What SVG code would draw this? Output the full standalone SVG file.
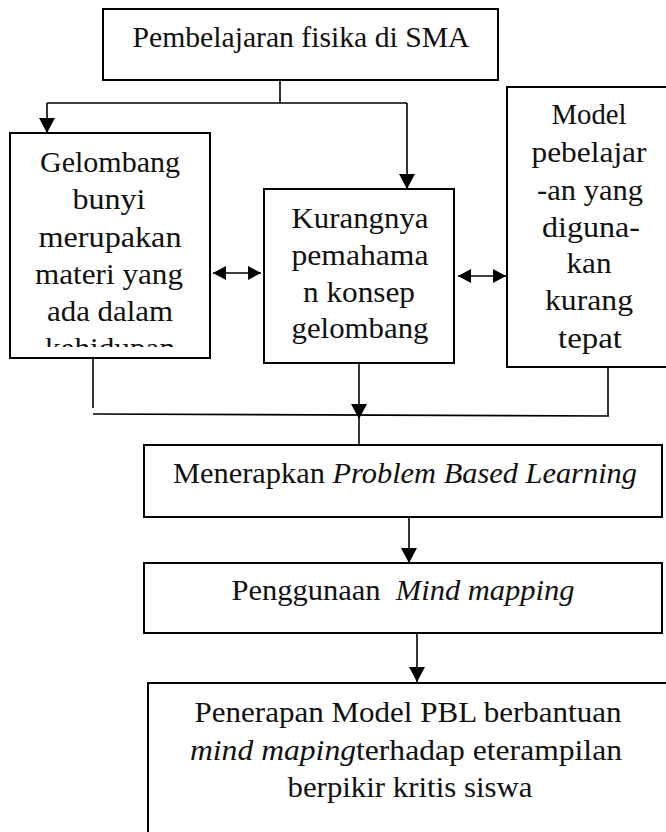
<svg xmlns="http://www.w3.org/2000/svg" width="666" height="832" viewBox="0 0 666 832">
<style>
.box{fill:#fff;stroke:#000;stroke-width:2}
.t{font-family:"Liberation Serif","Times New Roman",serif;font-size:30px;fill:#111;text-anchor:middle}
.i{font-style:italic}
.ln{fill:none;stroke:#000;stroke-width:1.6}
</style>
<defs>
<marker id="ah" markerUnits="userSpaceOnUse" markerWidth="16" markerHeight="16" refX="15" refY="8" orient="auto">
<path d="M0,0 L15,8 L0,16 Z" fill="#000"/>
</marker>
<marker id="ahs" markerUnits="userSpaceOnUse" markerWidth="14" markerHeight="14" refX="13" refY="7" orient="auto-start-reverse">
<path d="M0,0 L13,7 L0,14 Z" fill="#000"/>
</marker>
<clipPath id="clipL"><rect x="10" y="133" width="200" height="214"/></clipPath>
</defs>
<rect width="666" height="832" fill="#fff"/>

<g id="connectors">
<path class="ln" d="M280,80 V103"/>
<path class="ln" d="M47,103 H407"/>
<path class="ln" d="M47,103 V133" marker-end="url(#ah)"/>
<path class="ln" d="M407,103 V189" marker-end="url(#ah)"/>
<path class="ln" d="M213,273 H261" marker-start="url(#ahs)" marker-end="url(#ahs)"/>
<path class="ln" d="M458,276 H506" marker-start="url(#ahs)" marker-end="url(#ahs)"/>
<path class="ln" d="M93,359 V408"/>
<path class="ln" d="M93,414 L609,416"/>
<path class="ln" d="M608,366 V416"/>
<path class="ln" d="M359,364 V419" marker-end="url(#ah)"/>
<path class="ln" d="M359,419 V445"/>
<path class="ln" d="M409,517 V563" marker-end="url(#ah)"/>
<path class="ln" d="M417,633 V682" marker-end="url(#ah)"/>
</g>

<g id="n-top">
<rect class="box" x="103" y="9" width="395" height="71"/>
<text class="t" x="301" y="47" textLength="337" lengthAdjust="spacingAndGlyphs">Pembelajaran fisika di SMA</text>
</g>

<g id="n-left">
<rect class="box" x="10" y="133" width="200" height="225"/>
<g clip-path="url(#clipL)">
<text class="t" x="110" y="172" textLength="140" lengthAdjust="spacingAndGlyphs">Gelombang</text>
<text class="t" x="109" y="209" textLength="73" lengthAdjust="spacingAndGlyphs">bunyi</text>
<text class="t" x="110" y="247" textLength="143" lengthAdjust="spacingAndGlyphs">merupakan</text>
<text class="t" x="109" y="284" textLength="148" lengthAdjust="spacingAndGlyphs">materi yang</text>
<text class="t" x="110" y="321" textLength="126" lengthAdjust="spacingAndGlyphs">ada dalam</text>
<text class="t" x="110" y="358" textLength="130" lengthAdjust="spacingAndGlyphs">kehidupan</text>
</g>
</g>

<g id="n-mid">
<rect class="box" x="264" y="189" width="190" height="174"/>
<text class="t" x="360" y="228" textLength="137" lengthAdjust="spacingAndGlyphs">Kurangnya</text>
<text class="t" x="360" y="265" textLength="137" lengthAdjust="spacingAndGlyphs">pemahama</text>
<text class="t" x="359" y="302" textLength="112" lengthAdjust="spacingAndGlyphs">n konsep</text>
<text class="t" x="360" y="338" textLength="137" lengthAdjust="spacingAndGlyphs">gelombang</text>
</g>

<g id="n-right">
<rect class="box" x="507" y="87" width="166" height="280"/>
<text class="t" x="589" y="124" textLength="75" lengthAdjust="spacingAndGlyphs">Model</text>
<text class="t" x="589" y="162" textLength="115" lengthAdjust="spacingAndGlyphs">pebelajar</text>
<text class="t" x="590" y="200" textLength="106" lengthAdjust="spacingAndGlyphs">-an yang</text>
<text class="t" x="591" y="237" textLength="98" lengthAdjust="spacingAndGlyphs">diguna-</text>
<text class="t" x="589" y="273" textLength="45" lengthAdjust="spacingAndGlyphs">kan</text>
<text class="t" x="589" y="310" textLength="88" lengthAdjust="spacingAndGlyphs">kurang</text>
<text class="t" x="590" y="348" textLength="64" lengthAdjust="spacingAndGlyphs">tepat</text>
</g>

<g id="n-pbl">
<rect class="box" x="144" y="445" width="518" height="72"/>
<text class="t" x="405" y="483" textLength="464" lengthAdjust="spacingAndGlyphs">Menerapkan <tspan class="i">Problem Based Learning</tspan></text>
</g>

<g id="n-mind">
<rect class="box" x="144" y="563" width="518" height="70"/>
<text class="t" x="403" y="600" textLength="343" lengthAdjust="spacingAndGlyphs">Penggunaan&#160; <tspan class="i">Mind mapping</tspan></text>
</g>

<g id="n-result">
<rect class="box" x="148" y="683" width="530" height="160"/>
<text class="t" x="408" y="722" textLength="427" lengthAdjust="spacingAndGlyphs">Penerapan Model PBL berbantuan</text>
<text class="t" x="406" y="760" textLength="432" lengthAdjust="spacingAndGlyphs"><tspan class="i">mind maping</tspan>terhadap eterampilan</text>
<text class="t" x="410" y="797" textLength="245" lengthAdjust="spacingAndGlyphs">berpikir kritis siswa</text>
</g>
</svg>
